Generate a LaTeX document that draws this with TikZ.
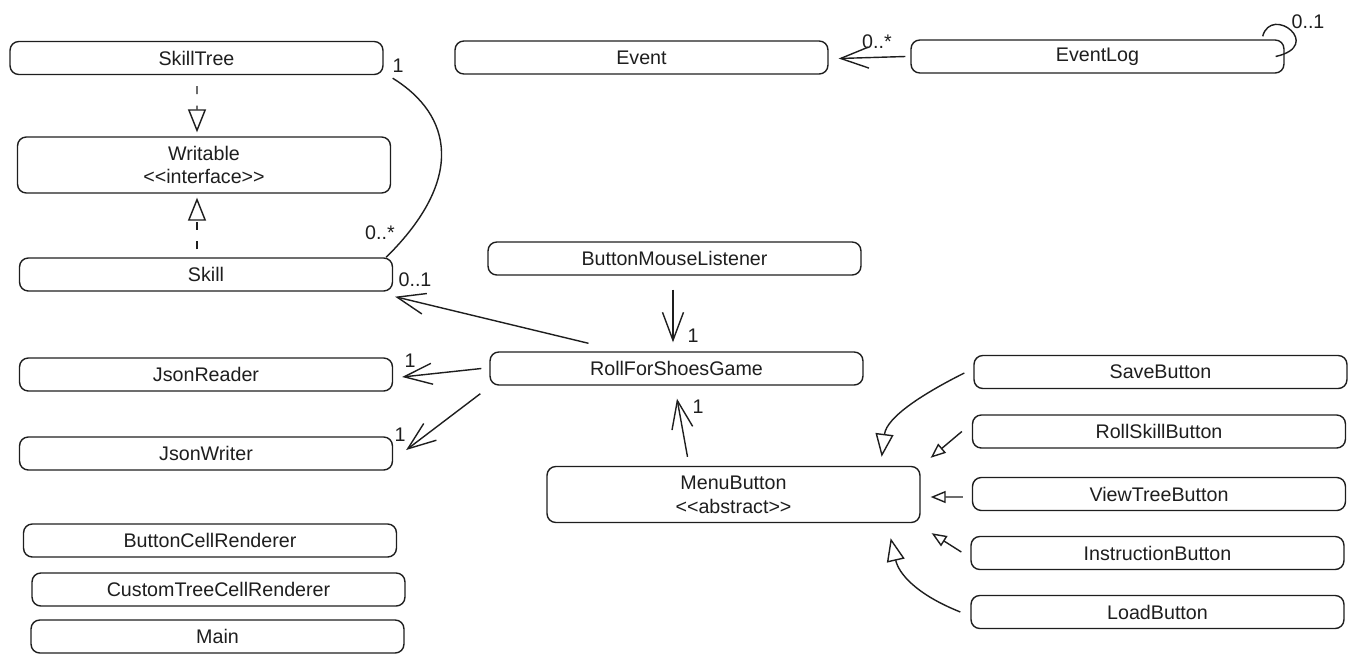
\documentclass[tikz,border=0pt]{standalone}
\usepackage{fontspec}
\setmainfont{Liberation Sans}
\usepackage{xcolor}
\usepackage{tikz}
\usetikzlibrary{arrows.meta}
\definecolor{ink}{HTML}{1E1E1E}

\begin{document}
\begin{tikzpicture}[x=0.02cm,y=-0.02cm,color=ink,
  font=\fontsize{11.2}{13.6}\selectfont,
  class node/.style={rectangle,draw,rounded corners=5pt,line width=0.8pt,
    minimum width=7.46cm,minimum height=0.66cm,inner sep=0pt,align=center},
  tall node/.style={class node,minimum height=1.12cm},
  mult label/.style={inner sep=0pt},
  assoc line/.style={line width=0.8pt},
  assoc/.style={assoc line,-{Straight Barb[length=0.56cm,width=0.42cm]}},
  realize/.style={line width=0.8pt,dash pattern=on 4.5pt off 6.5pt,
    -{Triangle[open,length=0.46cm,width=0.36cm]}},
  inherit/.style={line width=0.8pt,-{Triangle[open,length=0.46cm,width=0.36cm]}},
  inherit small/.style={line width=0.8pt,-{Triangle[open,length=0.3cm,width=0.24cm]}}]

  \useasboundingbox (0,0) rectangle (1357,663);

  % left column
  \node[class node] (SkillTree) at (196.5,58) {SkillTree};
  \node[tall node] (Writable) at (204,165) {Writable\\<\kern0pt<interface>\kern0pt>};
  \node[class node] (Skill) at (206,274.5) {Skill};
  \node[class node] (JsonReader) at (206,374.5) {JsonReader};
  \node[class node] (JsonWriter) at (206,453.5) {JsonWriter};
  \node[class node] (ButtonCellRenderer) at (210,540.5) {ButtonCellRenderer};
  \node[class node] (CustomTreeCellRenderer) at (218.5,589.5) {CustomTreeCellRenderer};
  \node[class node] (Main) at (217.5,636.5) {Main};

  % events
  \node[class node] (Event) at (641.5,57.5) {Event};
  \node[class node] (EventLog) at (1097.5,56.5) {EventLog};

  % game and buttons
  \node[class node] (ButtonMouseListener) at (674.5,258.5) {ButtonMouseListener};
  \node[class node] (RollForShoesGame) at (676.5,368.5) {RollForShoesGame};
  \node[tall node] (MenuButton) at (733.5,494.5) {MenuButton\\<\kern0pt<abstract>\kern0pt>};
  \node[class node] (SaveButton) at (1160.5,372) {SaveButton};
  \node[class node] (RollSkillButton) at (1159,431.5) {RollSkillButton};
  \node[class node] (ViewTreeButton) at (1159,494) {ViewTreeButton};
  \node[class node] (InstructionButton) at (1157.5,553) {InstructionButton};
  \node[class node] (LoadButton) at (1157.5,612) {LoadButton};

  \draw[realize] ([shift={(0.5,11)}]SkillTree.south) -- ([shift={(-7,-4)}]Writable.north);
  \draw[realize] ([shift={(-9,-8)}]Skill.north) -- ([shift={(-7,4)}]Writable.south);
  \draw[assoc line] ([shift={(9,3)}]SkillTree.south east)
    .. controls +(60,37) and +(79,-78) .. ([shift={(-7,0)}]Skill.north east);

  \draw[assoc] ([shift={(-5,0)}]EventLog.west) -- ([shift={(10,1)}]Event.east);
  \draw[assoc line] ([shift={(-22,-3)}]EventLog.north east)
    .. controls +(9,-32) and +(49,-11) .. ([shift={(-9,0)}]EventLog.east);

  \draw[assoc] ([shift={(-88,-8)}]RollForShoesGame.north) -- ([shift={(2,5)}]Skill.south east);
  \draw[assoc] ([shift={(-1.5,14)}]ButtonMouseListener.south) -- ([shift={(-3.5,-9)}]RollForShoesGame.north);
  \draw[assoc] ([shift={(-8,0)}]RollForShoesGame.west) -- ([shift={(9,2.5)}]JsonReader.east);
  \draw[assoc] ([shift={(-9,8)}]RollForShoesGame.south west) -- ([shift={(13,-3.5)}]JsonWriter.east);
  \draw[assoc] ([shift={(-46,-9)}]MenuButton.north) -- ([shift={(0.5,13)}]RollForShoesGame.south);

  \draw[inherit] ([shift={(-9,1)}]SaveButton.west)
    .. controls +(-40,20) and +(5,-40) .. ([shift={(-39,-9)}]MenuButton.north east);
  \draw[inherit small] ([shift={(-10,0)}]RollSkillButton.west) -- ([shift={(10,-8)}]MenuButton.north east);
  \draw[inherit small] ([shift={(-9,3)}]ViewTreeButton.west) -- ([shift={(10,2.5)}]MenuButton.east);
  \draw[inherit small] ([shift={(-9,-1)}]InstructionButton.west) -- ([shift={(11,10)}]MenuButton.south east);
  \draw[inherit] ([shift={(-10,0)}]LoadButton.west)
    .. controls +(-45,-18) and +(8,35) .. ([shift={(-30,15)}]MenuButton.south east);

  % multiplicities
  \node[mult label] (mSkillTree) at (398,66) {1};
  \node[mult label] (mSkillMany) at (380,233) {0..*};
  \node[mult label] (mEvent) at (877,42) {0..*};
  \node[mult label] (mEventLog) at (1308,22) {0..1};
  \node[mult label] (mSkillOne) at (415,280) {0..1};
  \node[mult label] (mListener) at (693,336) {1};
  \node[mult label] (mReader) at (410,361) {1};
  \node[mult label] (mWriter) at (400,435) {1};
  \node[mult label] (mMenu) at (698,407) {1};
\end{tikzpicture}
\end{document}
